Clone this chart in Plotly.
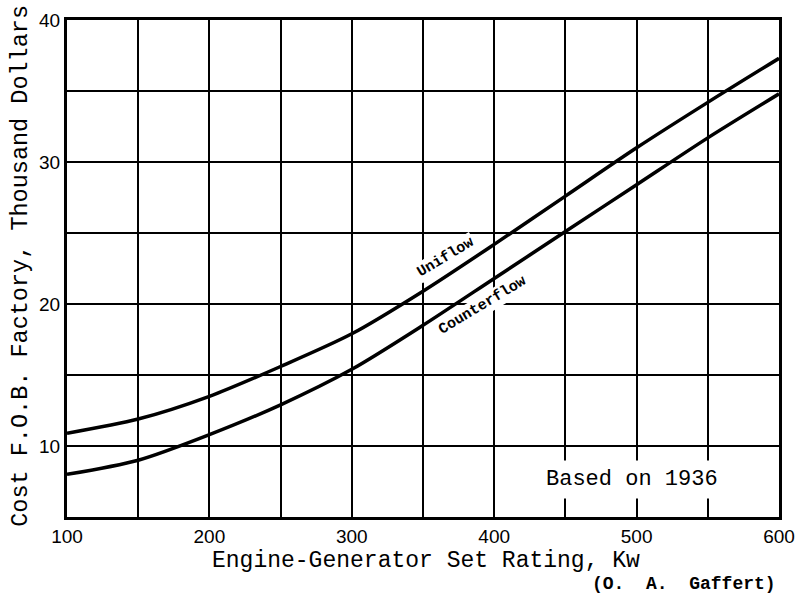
import plotly.graph_objects as go

rating_kw = [100, 150, 200, 250, 300, 350, 400, 450, 500, 550, 600]
uniflow = [10.9, 11.9, 13.5, 15.6, 17.9, 20.9, 24.2, 27.6, 31.0, 34.2, 37.3]
counterflow = [8.0, 9.0, 10.8, 12.9, 15.4, 18.5, 21.8, 25.1, 28.4, 31.7, 34.8]

x_ticks = [100, 200, 300, 400, 500, 600]
y_ticks = [10, 20, 30, 40]

mono = "Liberation Mono, DejaVu Sans Mono, monospace"
sans = "Liberation Sans, Arial, sans-serif"

fig = go.Figure()
for name, ys in [("Uniflow", uniflow), ("Counterflow", counterflow)]:
    fig.add_trace(go.Scatter(x=rating_kw, y=ys, mode="lines", name=name,
                             line=dict(color="black", width=3.5, shape="spline", smoothing=0.8),
                             showlegend=False))

axis_common = dict(showline=True, linecolor="black", linewidth=3, mirror=True,
                   showgrid=True, gridcolor="black", gridwidth=2,
                   ticks="", zeroline=False, automargin=False,
                   tickfont=dict(family=sans, size=19, color="black"))

fig.update_xaxes(range=[100, 600], tickvals=x_ticks,
                 minor=dict(dtick=50, tick0=100, showgrid=True, gridcolor="black", gridwidth=2),
                 **axis_common)
fig.update_yaxes(range=[5, 40], tickvals=y_ticks,
                 minor=dict(dtick=5, tick0=5, showgrid=True, gridcolor="black", gridwidth=2),
                 **axis_common)

annotations = [
    dict(text="Cost F.O.B. Factory, Thousand Dollars", xref="paper", yref="paper",
         x=-0.0646, y=0.5055, textangle=-90, showarrow=False,
         font=dict(family=mono, size=23.5, color="black"), xanchor="center", yanchor="middle"),
    dict(text="Engine-Generator Set Rating, Kw", xref="paper", yref="paper",
         x=0.504, y=-0.0894, showarrow=False,
         font=dict(family=mono, size=23, color="black"), xanchor="center", yanchor="middle"),
    dict(text="(O.  A.  Gaffert)", xref="paper", yref="paper",
         x=0.867, y=-0.134, showarrow=False,
         font=dict(family=mono, size=18, color="black", weight="bold"), xanchor="center", yanchor="middle"),
    dict(text="Based on 1936", x=497, y=7.64, showarrow=False, bgcolor="white", borderpad=6,
         font=dict(family=mono, size=22, color="black"), xanchor="center", yanchor="middle"),
    dict(text="Uniflow", x=366, y=23.3, showarrow=False, textangle=-31, bgcolor="white", borderpad=1,
         font=dict(family=mono, size=15, color="black", weight="bold"), xanchor="center", yanchor="middle"),
    dict(text="Counterflow", x=392, y=19.9, showarrow=False, textangle=-31, bgcolor="white", borderpad=1,
         font=dict(family=mono, size=15, color="black", weight="bold"), xanchor="center", yanchor="middle"),
]

fig.update_layout(width=795, height=595, margin=dict(l=67, r=16, t=20, b=77.5),
                  paper_bgcolor="white", plot_bgcolor="white", annotations=annotations)

# remove the default 8px page margin so the figure fills the window exactly
fig.write_html("out.html", config={"displayModeBar": False},
               post_script="document.body.style.margin='0';document.body.style.overflow='hidden';")
